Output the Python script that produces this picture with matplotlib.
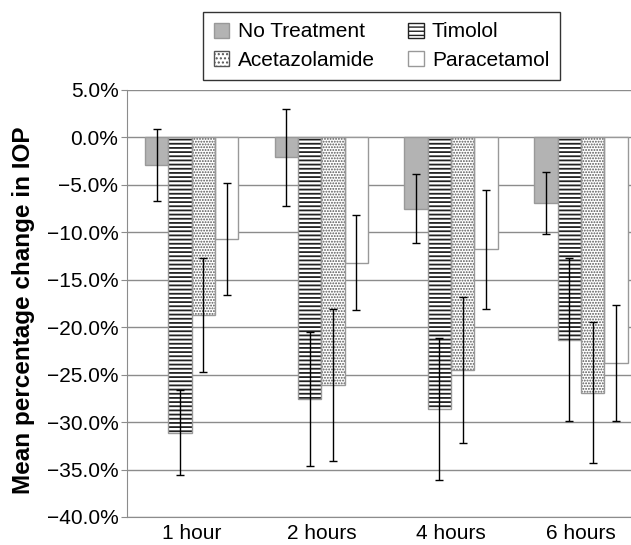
import numpy as np
import matplotlib
matplotlib.use('Agg')
import matplotlib.pyplot as plt
from matplotlib.patches import Patch
from matplotlib.ticker import PercentFormatter

plt.rcParams['font.family'] = ['Liberation Sans', 'DejaVu Sans']

# Datos
grupos = ['1 hour', '2 hours', '4 hours', '6 hours']
series = ['No Treatment', 'Timolol', 'Acetazolamide', 'Paracetamol']
no_treatment = [-2.9, -2.1, -7.5, -6.9]
timolol = [-31.1, -27.6, -28.6, -21.3]
acetazolamide = [-18.7, -26.1, -24.5, -26.9]
paracetamol = [-10.7, -13.2, -11.8, -23.8]
err_no_treatment = [3.75, 5.1, 3.6, 3.3]
err_timolol = [4.5, 7.05, 7.5, 8.6]
err_acetazolamide = [6.0, 8.0, 7.7, 7.45]
err_paracetamol = [5.9, 5.0, 6.25, 6.1]

valores = [no_treatment, timolol, acetazolamide, paracetamol]
errores = [err_no_treatment, err_timolol, err_acetazolamide, err_paracetamol]
rellenos = ['#b3b3b3', 'white', 'white', 'white']
tramas = [None, '----', '......', None]
color_trama = [None, '#222222', '#555555', None]
grosor_trama = [None, 1.3, 0.9, None]
borde = '#999999'

fig = plt.figure(figsize=(6.31, 5.45), dpi=100)
ax = fig.add_axes([0.201, 0.0514, 0.81, 0.7835])

x = np.arange(len(grupos))
ancho = 0.18
for i in range(4):
    pos = x + (i - 1.5) * ancho
    if tramas[i]:
        with plt.rc_context({'hatch.linewidth': grosor_trama[i]}):
            ax.bar(pos, valores[i], ancho, color=rellenos[i], edgecolor=color_trama[i],
                   hatch=tramas[i], linewidth=0, zorder=2)
        ax.bar(pos, valores[i], ancho, color='none', edgecolor=borde,
               linewidth=1.0, zorder=3)
    else:
        ax.bar(pos, valores[i], ancho, color=rellenos[i], edgecolor=borde,
               linewidth=1.0, zorder=2)
    ax.errorbar(pos, valores[i], yerr=errores[i], fmt='none', ecolor='black',
                elinewidth=1.0, capsize=3, capthick=1.0, zorder=4)

ax.set_ylim(-40, 5)
ax.set_yticks(np.arange(-40, 5.1, 5))
ax.yaxis.set_major_formatter(PercentFormatter(decimals=1))
ax.set_xlim(-0.5, 3.44)
ax.set_xticks(x)
ax.set_xticklabels(grupos)
ax.grid(axis='y', color='#8c8c8c', linewidth=1.0, zorder=0)
ax.set_axisbelow(True)

for lado in ['top', 'right']:
    ax.spines[lado].set_visible(False)
for lado in ['left', 'bottom']:
    ax.spines[lado].set_color('#8c8c8c')
ax.tick_params(axis='y', labelsize=15, length=4, color='#8c8c8c', pad=2)
ax.tick_params(axis='x', labelsize=15, length=0, pad=5)

ax.set_ylabel('Mean percentage change in IOP', fontsize=17.5, fontweight='bold')
ax.yaxis.set_label_coords(-0.180, 0.485)

with plt.rc_context({'hatch.linewidth': 1.1}):
    manejadores = [
        Patch(facecolor='#b3b3b3', edgecolor='#999999', label='No Treatment'),
        Patch(facecolor='white', edgecolor='#555555', hatch='....', label='Acetazolamide'),
        Patch(facecolor='white', edgecolor='#222222', hatch='----', label='Timolol'),
        Patch(facecolor='white', edgecolor='#999999', label='Paracetamol'),
    ]
leg = fig.legend(handles=manejadores, ncol=2, loc='upper left',
                 bbox_to_anchor=(0.322, 0.978), borderaxespad=0, fontsize=15,
                 frameon=True, fancybox=False, edgecolor='black', handlelength=0.75,
                 handleheight=0.75, handletextpad=0.4, columnspacing=1.6,
                 borderpad=0.5, labelspacing=0.45)
leg.get_frame().set_linewidth(1.0)

fig.savefig('out.png', dpi=100)
